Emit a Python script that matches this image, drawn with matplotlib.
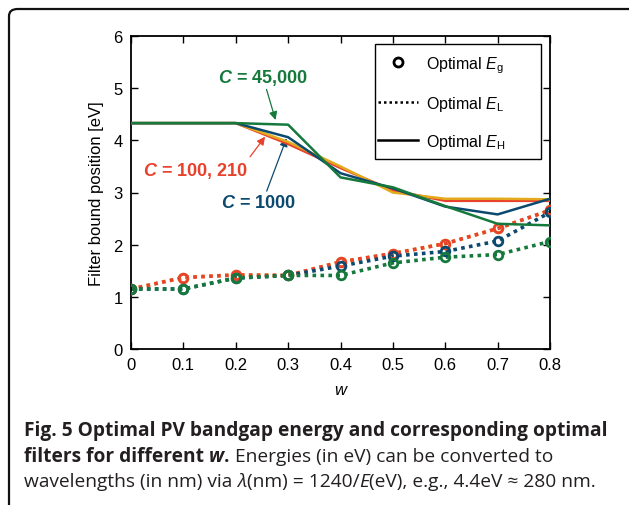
import matplotlib
matplotlib.use("Agg")
import matplotlib.pyplot as plt
from matplotlib.lines import Line2D
from matplotlib.patches import FancyBboxPatch, Rectangle
from matplotlib.font_manager import FontProperties

# ---------------- data ----------------
w = [0.0, 0.1, 0.2, 0.3, 0.4, 0.5, 0.6, 0.7, 0.8]
c_labels = ["100", "210", "1000", "45000"]

# Optimal bandgap E_g (markers) / E_L (dotted)
eg_c100 = [1.15, 1.37, 1.42, 1.41, 1.67, 1.83, 2.02, 2.31, 2.66]
eg_c210 = [1.15, 1.37, 1.42, 1.41, 1.67, 1.83, 2.02, 2.31, 2.66]
eg_c1000 = [1.15, 1.15, 1.36, 1.41, 1.59, 1.78, 1.87, 2.07, 2.62]
eg_c45000 = [1.15, 1.15, 1.36, 1.41, 1.41, 1.65, 1.76, 1.81, 2.06]

# Optimal upper filter bound E_H (solid)
eh_c100 = [4.33, 4.33, 4.33, 3.93, 3.47, 3.04, 2.84, 2.84, 2.84]
eh_c210 = [4.33, 4.33, 4.33, 3.97, 3.50, 3.00, 2.88, 2.88, 2.87]
eh_c1000 = [4.33, 4.33, 4.33, 4.06, 3.37, 3.08, 2.73, 2.58, 2.88]
eh_c45000 = [4.33, 4.33, 4.33, 4.30, 3.29, 3.10, 2.74, 2.40, 2.37]

x_ticks = [0, 0.1, 0.2, 0.3, 0.4, 0.5, 0.6, 0.7, 0.8]
x_tick_labels = ["0", "0.1", "0.2", "0.3", "0.4", "0.5", "0.6", "0.7", "0.8"]
y_ticks = [0, 1, 2, 3, 4, 5, 6]

RED = "#e8412c"
ORANGE = "#e2aa1c"
BLUE = "#0c496e"
GREEN = "#15793c"
TXT = "#231f20"

plt.rcParams["font.family"] = ["Liberation Sans", "DejaVu Sans"]
plt.rcParams["mathtext.fontset"] = "custom"
plt.rcParams["mathtext.rm"] = "Liberation Sans"
plt.rcParams["mathtext.it"] = "Liberation Sans:italic"
plt.rcParams["mathtext.bf"] = "Liberation Sans:bold"
plt.rcParams["mathtext.bfit"] = "Liberation Sans:bold:italic"

W, H = 629, 506
fig = plt.figure(figsize=(W / 100, H / 100), dpi=100)

# rounded frame around the figure (partly clipped at right/bottom)
frame = FancyBboxPatch((9 / W, 1 - 520 / H), (650 - 9) / W, (520 - 10) / H,
                       boxstyle="round,pad=0,rounding_size=0.014",
                       transform=fig.transFigure, fill=False,
                       edgecolor="#111111", linewidth=1.6, clip_on=False)
fig.patches.append(frame)

ax = fig.add_axes([131 / W, 1 - 350 / H, (550 - 131) / W, (350 - 37) / H])

series_eg = [(eg_c210, ORANGE), (eg_c100, RED), (eg_c1000, BLUE), (eg_c45000, GREEN)]
series_eh = [(eh_c100, RED), (eh_c210, ORANGE), (eh_c1000, BLUE), (eh_c45000, GREEN)]

for vals, col in series_eg:
    ax.plot(w, vals, linestyle=(0, (1, 1.2)), color=col, linewidth=2.6,
            dash_capstyle="butt", zorder=2)
for vals, col in series_eg:
    ax.plot(w, vals, linestyle="none", marker="o", markersize=6.2,
            markerfacecolor="none", markeredgecolor=col, markeredgewidth=2.0, zorder=3)
for vals, col in series_eh:
    ax.plot(w, vals, linestyle="-", color=col, linewidth=1.8, zorder=4)

ax.set_xlim(0, 0.8)
ax.set_ylim(0, 6)
ax.set_xticks(x_ticks)
ax.set_xticklabels(x_tick_labels)
ax.set_yticks(y_ticks)
ax.tick_params(direction="in", top=True, right=True, length=5, width=1.0,
               labelsize=12, pad=6)
for s in ax.spines.values():
    s.set_linewidth(1.3)
ax.set_xlabel("w", fontstyle="italic", fontsize=12, labelpad=7)
ax.set_ylabel("Filter bound position [eV]", fontsize=12, labelpad=7)

# annotations
ax.annotate(r"$\mathbfit{C}$ = 45,000", xy=(0.276, 4.39), xytext=(0.2515, 5.03),
            color=GREEN, fontsize=13, fontweight="bold", ha="center", va="bottom",
            arrowprops=dict(arrowstyle="-|>", color=GREEN, lw=0.9,
                            mutation_scale=12, shrinkA=0, shrinkB=0))
ax.annotate(r"$\mathbfit{C}$ = 100, 210", xy=(0.256, 4.07), xytext=(0.123, 3.44),
            color=RED, fontsize=13, fontweight="bold", ha="center", va="center",
            arrowprops=dict(arrowstyle="-|>", color=RED, lw=0.9,
                            mutation_scale=12, shrinkA=0, shrinkB=0,
                            relpos=(0.98, 0.85)))
ax.annotate(r"$\mathbfit{C}$ = 1000", xy=(0.297, 4.04), xytext=(0.244, 2.81),
            color=BLUE, fontsize=13, fontweight="bold", ha="center", va="center",
            arrowprops=dict(arrowstyle="-|>", color=BLUE, lw=0.9,
                            mutation_scale=12, shrinkA=0, shrinkB=0,
                            relpos=(0.6, 1.1)))

# legend (content placed, frame drawn separately)
handles = [
    Line2D([], [], linestyle="none", marker="o", markersize=6.5, markerfacecolor="none",
           markeredgecolor="black", markeredgewidth=2.0),
    Line2D([], [], linestyle=(0, (1, 1.2)), color="black", linewidth=1.8),
    Line2D([], [], linestyle="-", color="black", linewidth=1.8),
]
labels = [r"Optimal $E_{\mathrm{g}}$", r"Optimal $E_{\mathrm{L}}$", r"Optimal $E_{\mathrm{H}}$"]
leg = ax.legend(handles, labels, loc="upper left",
                bbox_to_anchor=((378 - 131) / 419, (350 - 55) / 313),
                borderaxespad=0, fontsize=11.5, handlelength=2.5, handletextpad=0.5,
                labelspacing=1.2, borderpad=0, frameon=False)
ax.add_patch(Rectangle(((375 - 131) / 419, (350 - 160) / 313), (541 - 375) / 419,
                       (160 - 45) / 313, transform=ax.transAxes, fill=True,
                       facecolor="white", edgecolor="black", linewidth=1.0, zorder=4.5))
leg.set_zorder(5)

# caption with mixed styles
fig.canvas.draw()
renderer = fig.canvas.get_renderer()
CAP_FAM = ["Open Sans", "DejaVu Sans"]


def text_width(s, size, style, weight):
    fp = FontProperties(family=CAP_FAM, size=size, style=style, weight=weight)
    w1, _, _ = renderer.get_text_width_height_descent("|" + s + "|", fp, ismath=False)
    w0, _, _ = renderer.get_text_width_height_descent("||", fp, ismath=False)
    return w1 - w0


def draw_runs(x_px, y_px, runs, size):
    x = x_px
    for s, style, weight in runs:
        fig.text(x / W, 1 - y_px / H, s, fontsize=size, fontstyle=style,
                 fontweight=weight, family=CAP_FAM, color=TXT,
                 ha="left", va="baseline")
        x += text_width(s, size, style, weight)


line1 = [("Fig. 5 Optimal PV bandgap energy and corresponding optimal", "normal", "bold")]
line2 = [("filters for different ", "normal", "bold"), ("w", "italic", "bold"),
         (".", "normal", "bold"),
         (" Energies (in eV) can be converted to", "normal", "normal")]
line3 = [("wavelengths (in nm) via ", "normal", "normal"), ("\u03bb", "italic", "normal"),
         ("(nm) = 1240/", "normal", "normal"), ("E", "italic", "normal"),
         ("(eV), e.g., 4.4eV \u2248 280 nm.", "normal", "normal")]

base = 12.0
w_line1 = text_width(line1[0][0], base, "normal", "bold")
cap_size = base * 583 / w_line1

draw_runs(24, 436.5, line1, cap_size)
draw_runs(24, 462.5, line2, cap_size)
draw_runs(24, 487.5, line3, cap_size)

fig.savefig("out.png", dpi=100)
